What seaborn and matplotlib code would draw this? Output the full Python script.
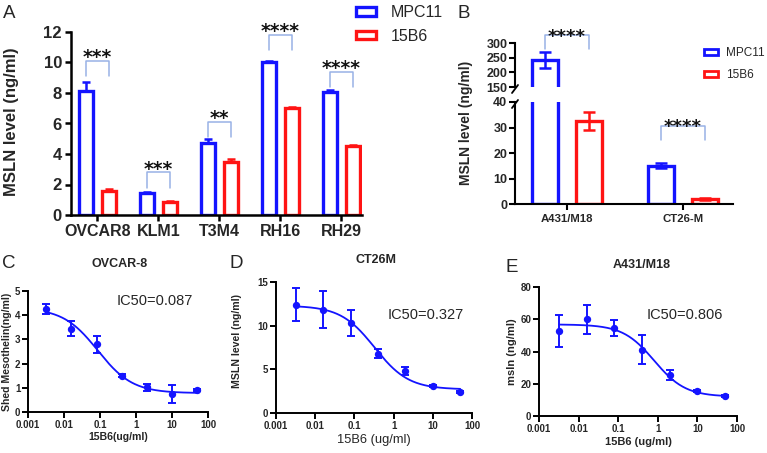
import numpy as np
import pandas as pd
import matplotlib
matplotlib.use("Agg")
import matplotlib.pyplot as plt
import matplotlib.transforms as mtransforms
from matplotlib.patches import Patch
from matplotlib.ticker import FixedLocator, FixedFormatter, NullLocator
import seaborn as sns

sns.set_theme(style="ticks")
plt.rcParams['font.family'] = ['Liberation Sans', 'DejaVu Sans']

BLUE = "#1414FF"
RED = "#FF1414"
BRACKET = "#98B2E6"

# ---------------- data ----------------
groups = ["MPC11", "15B6"]

a_cells = ["OVCAR8", "KLM1", "T3M4", "RH16", "RH29"]
a_mpc11 = [8.1, 1.45, 4.7, 10.0, 8.05]
a_mpc11_err = [0.6, 0.06, 0.27, 0.12, 0.12]
a_15b6 = [1.6, 0.85, 3.5, 7.0, 4.5]
a_15b6_err = [0.1, 0.05, 0.15, 0.05, 0.12]
a_sig = ["***", "***", "**", "****", "****"]
a_bracket_top = [10.1, 2.8, 6.1, 11.8, 9.4]

b_cells = ["A431/M18", "CT26-M"]
b_mpc11 = [243, 15.0]
b_mpc11_err = [28, 1.0]
b_15b6 = [32.5, 2.0]
b_15b6_err = [3.5, 0.4]
b_sig = ["****", "****"]

dose = [0.0032, 0.016, 0.08, 0.4, 2, 10, 50]
dose_ticks = [0.001, 0.01, 0.1, 1, 10, 100]
dose_ticklabels = ["0.001", "0.01", "0.1", "1", "10", "100"]

c_mean = [4.25, 3.45, 2.8, 1.5, 1.02, 0.75, 0.9]
c_err = [0.22, 0.3, 0.35, 0.05, 0.15, 0.37, 0.05]
c_fit = dict(top=4.3, bottom=0.78, ic50=0.087, hill=0.9)

d_mean = [12.4, 11.85, 10.3, 6.8, 4.85, 3.05, 2.4]
d_err = [1.9, 2.1, 1.45, 0.55, 0.45, 0.1, 0.1]
d_fit = dict(top=12.3, bottom=2.7, ic50=0.327, hill=1.0)

e_mean = [52.5, 60.0, 54.5, 41.0, 25.5, 15.5, 12.5]
e_err = [10.0, 9.0, 5.0, 9.0, 3.0, 0.6, 0.6]
e_fit = dict(top=56.8, bottom=12.0, ic50=0.806, hill=1.1)

# ---------------- figure ----------------
W, H = 767, 453
fig = plt.figure(figsize=(W / 100, H / 100), dpi=100)
fig.patch.set_facecolor("white")
palette = {"MPC11": BLUE, "15B6": RED}


def px_axes(l, t, r, b):
    return fig.add_axes([l / W, 1 - b / H, (r - l) / W, (b - t) / H])


def style_axes(ax, lw=1.5, length=4.5, pad=2.0):
    for s in ["top", "right"]:
        ax.spines[s].set_visible(False)
    for s in ["left", "bottom"]:
        ax.spines[s].set_linewidth(lw)
        ax.spines[s].set_color("black")
    ax.tick_params(axis="both", direction="out", width=lw, length=length, color="black", pad=pad)


def long_df(cells, v1, v2):
    return pd.DataFrame({
        "cell": cells * 2,
        "group": [groups[0]] * len(cells) + [groups[1]] * len(cells),
        "value": list(v1) + list(v2),
    })


def star_text(ax, x, y, s, size=14):
    tr = mtransforms.offset_copy(ax.transData, fig=fig, y=-size * 0.57, units="points")
    ax.text(x, y, s, transform=tr, ha="center", va="baseline", fontsize=size,
            fontweight="bold", family="DejaVu Sans", color="#111111", clip_on=False)


# ---------------- Panel A ----------------
axA = px_axes(71, 32, 362, 215)
dfA = long_df(a_cells, a_mpc11, a_15b6)
sns.barplot(data=dfA, x="cell", y="value", hue="group", hue_order=groups,
            palette=palette, fill=False, linewidth=2.4, width=0.76, gap=0.4,
            errorbar=None, legend=False, ax=axA)
centers_A = []
for i, errs in enumerate([a_mpc11_err, a_15b6_err]):
    col = palette[groups[i]]
    xs = []
    for bar, e in zip(axA.containers[i], errs):
        bar.set_facecolor("white")
        x = bar.get_x() + bar.get_width() / 2
        h = bar.get_height()
        xs.append(x)
        axA.errorbar(x, h, yerr=[[0], [e]], fmt="none", ecolor=col,
                     elinewidth=1.8, capsize=3, capthick=1.8, zorder=3)
    centers_A.append(xs)
for j in range(len(a_cells)):
    x1, x2 = centers_A[0][j], centers_A[1][j]
    yt = a_bracket_top[j]
    axA.plot([x1, x1, x2, x2], [yt - 1.0, yt, yt, yt - 1.0], color=BRACKET, lw=1.1)
    star_text(axA, (x1 + x2) / 2, yt + 0.55, a_sig[j], 13.5)
axA.set_xlim(-0.434, 4.34)
axA.set_ylim(0, 12)
axA.set_yticks(range(0, 13, 2))
style_axes(axA, 1.8, 4.5, 2.0)
axA.set_xlabel("")
axA.set_ylabel("MSLN level (ng/ml)", fontsize=12, fontweight="bold")
axA.yaxis.set_label_coords(-0.180, 0.51)
for lab in axA.get_xticklabels():
    lab.set_fontsize(11.5); lab.set_fontweight("bold")
for lab in axA.get_yticklabels():
    lab.set_fontsize(12); lab.set_fontweight("bold")

fig.legend(handles=[Patch(facecolor="white", edgecolor=palette[g], linewidth=2.4, label=g) for g in groups],
           loc="upper left", bbox_to_anchor=(356 / W, 1 - 5 / H), frameon=False,
           fontsize=11.5, handlelength=1.25, handleheight=0.45, handletextpad=0.9,
           labelspacing=0.55, borderpad=0, borderaxespad=0)

# ---------------- Panel B ----------------
axBt = px_axes(515, 43, 733, 87)
axBb = px_axes(515, 102, 733, 204)
dfB = long_df(b_cells, b_mpc11, b_15b6)
centers_B = None
for ax in (axBt, axBb):
    sns.barplot(data=dfB, x="cell", y="value", hue="group", hue_order=groups,
                palette=palette, fill=False, linewidth=2.4, width=0.76, gap=0.4,
                errorbar=None, legend=False, ax=ax)
    cs = []
    for i, errs in enumerate([b_mpc11_err, b_15b6_err]):
        col = palette[groups[i]]
        xs = []
        for bar, e in zip(ax.containers[i], errs):
            bar.set_facecolor("white")
            x = bar.get_x() + bar.get_width() / 2
            xs.append(x)
            ax.errorbar(x, bar.get_height(), yerr=e, fmt="none", ecolor=col,
                        elinewidth=1.8, capsize=4, capthick=1.8, zorder=3)
        cs.append(xs)
    centers_B = cs
    ax.set_xlim(-0.448, 1.43)
    style_axes(ax, 1.5, 4.5, 1.0)
    ax.set_xlabel("")
    ax.set_ylabel("")
axBt.set_ylim(150, 300)
axBt.set_yticks([150, 200, 250, 300])
axBt.spines["bottom"].set_visible(False)
axBt.tick_params(axis="x", bottom=False, labelbottom=False)
axBb.set_ylim(0, 40)
axBb.set_yticks([0, 10, 20, 30, 40])
axBb.tick_params(axis="x", pad=3)
for ax in (axBt, axBb):
    for lab in ax.get_yticklabels():
        lab.set_fontsize(9); lab.set_fontweight("bold")
for lab in axBb.get_xticklabels():
    lab.set_fontsize(8.2); lab.set_fontweight("bold")
axBb.set_ylabel("MSLN level (ng/ml)", fontsize=10, fontweight="bold")
axBb.yaxis.set_label_coords(-0.193, 0.80)
# axis break marks
axBt.plot([-3 / 218, 3 / 218], [-6 / 44, 2 / 44], transform=axBt.transAxes, color="black", lw=1.3, clip_on=False)
axBb.plot([-3 / 218, 3 / 218], [1 - 6 / 102, 1 + 2 / 102], transform=axBb.transAxes, color="black", lw=1.3, clip_on=False)
# brackets
x1, x2 = centers_B[0][0], centers_B[1][0]
axBt.plot([x1, x1, x2, x2], [280, 327, 327, 280], color=BRACKET, lw=1.1, clip_on=False)
star_text(axBt, (x1 + x2) / 2, 337, b_sig[0], 13)
x1, x2 = centers_B[0][1], centers_B[1][1]
axBb.plot([x1, x1, x2, x2], [25.1, 30.6, 30.6, 25.1], color=BRACKET, lw=1.1, clip_on=False)
star_text(axBb, (x1 + x2) / 2, 32.4, b_sig[1], 13)

fig.legend(handles=[Patch(facecolor="white", edgecolor=palette[g], linewidth=2.0, label=g) for g in groups],
           loc="upper left", bbox_to_anchor=(704 / W, 1 - 47 / H), frameon=False,
           fontsize=8.5, handlelength=1.2, handleheight=0.4, handletextpad=0.7,
           labelspacing=0.85, borderpad=0, borderaxespad=0)


# ---------------- Panels C, D, E ----------------
def four_pl(x, top, bottom, ic50, hill):
    return bottom + (top - bottom) / (1 + (x / ic50) ** hill)


def dose_panel(box, mean, err, fit, ylim, yticks, ylabel, ylab_coords, xlabel, xlab_bold,
               xlab_size, xlab_y, title, title_xy, ic50_text, ic50_xy, tick_size, ylab_size):
    ax = px_axes(*box)
    xs = np.geomspace(dose[0], dose[-1], 200)
    curve = pd.DataFrame({"dose": xs, "fit": four_pl(xs, **fit)})
    sns.lineplot(data=curve, x="dose", y="fit", color=BLUE, lw=1.3, ax=ax)
    pts = pd.DataFrame({"dose": dose, "mean": mean})
    ax.errorbar(dose, mean, yerr=err, fmt="none", ecolor=BLUE, elinewidth=1.4,
                capsize=2.8, capthick=1.4, zorder=3)
    sns.scatterplot(data=pts, x="dose", y="mean", color=BLUE, s=28, edgecolor=BLUE,
                    linewidth=0, zorder=4, ax=ax)
    ax.set_xscale("log")
    ax.set_xlim(0.001, 100)
    ax.set_ylim(*ylim)
    ax.xaxis.set_major_locator(FixedLocator(dose_ticks))
    ax.xaxis.set_major_formatter(FixedFormatter(dose_ticklabels))
    ax.xaxis.set_minor_locator(NullLocator())
    ax.set_yticks(yticks)
    style_axes(ax, 1.4, 4, 1.5)
    for lab in ax.get_xticklabels() + ax.get_yticklabels():
        lab.set_fontsize(tick_size); lab.set_fontweight("bold")
    ax.set_ylabel(ylabel, fontsize=ylab_size, fontweight="bold")
    ax.yaxis.set_label_coords(*ylab_coords)
    ax.set_xlabel(xlabel, fontsize=xlab_size, fontweight="bold" if xlab_bold else "normal")
    ax.xaxis.set_label_coords(0.5, xlab_y)
    fig.text(title_xy[0] / W, 1 - title_xy[1] / H, title, ha="center", va="center",
             fontsize=9, fontweight="bold")
    fig.text(ic50_xy[0] / W, 1 - ic50_xy[1] / H, ic50_text, ha="left", va="center",
             fontsize=10.5)
    return ax


dose_panel((28, 291, 208, 412), c_mean, c_err, c_fit, (0, 5), [0, 1, 2, 3, 4, 5],
           "Shed Mesothelin(ng/ml)", (-0.089, 0.5), "15B6(ug/ml)", True, 7.6, -0.165,
           "OVCAR-8", (120, 264), "IC50=0.087", (117, 301), 7.0, 7.6)
dose_panel((276, 282, 472, 413), d_mean, d_err, d_fit, (0, 15), [0, 5, 10, 15],
           "MSLN level (ng/ml)", (-0.173, 0.55), "15B6 (ug/ml)", False, 9.3, -0.16,
           "CT26M", (376, 260), "IC50=0.327", (388, 315), 7.0, 7.6)
dose_panel((539, 287, 737, 416), e_mean, e_err, e_fit, (0, 80), [0, 20, 40, 60, 80],
           "msln (ng/ml)", (-0.112, 0.5), "15B6 (ug/ml)", True, 8.0, -0.163,
           "A431/M18", (642, 265), "IC50=0.806", (647, 315), 7.0, 8.0)

# panel letters
for letter, (x, y) in {"A": (9, 13), "B": (464, 13), "C": (9, 263), "D": (236, 263), "E": (512, 267)}.items():
    fig.text(x / W, 1 - y / H, letter, ha="center", va="center", fontsize=13.5)

fig.savefig("out.png", dpi=100, facecolor="white")
